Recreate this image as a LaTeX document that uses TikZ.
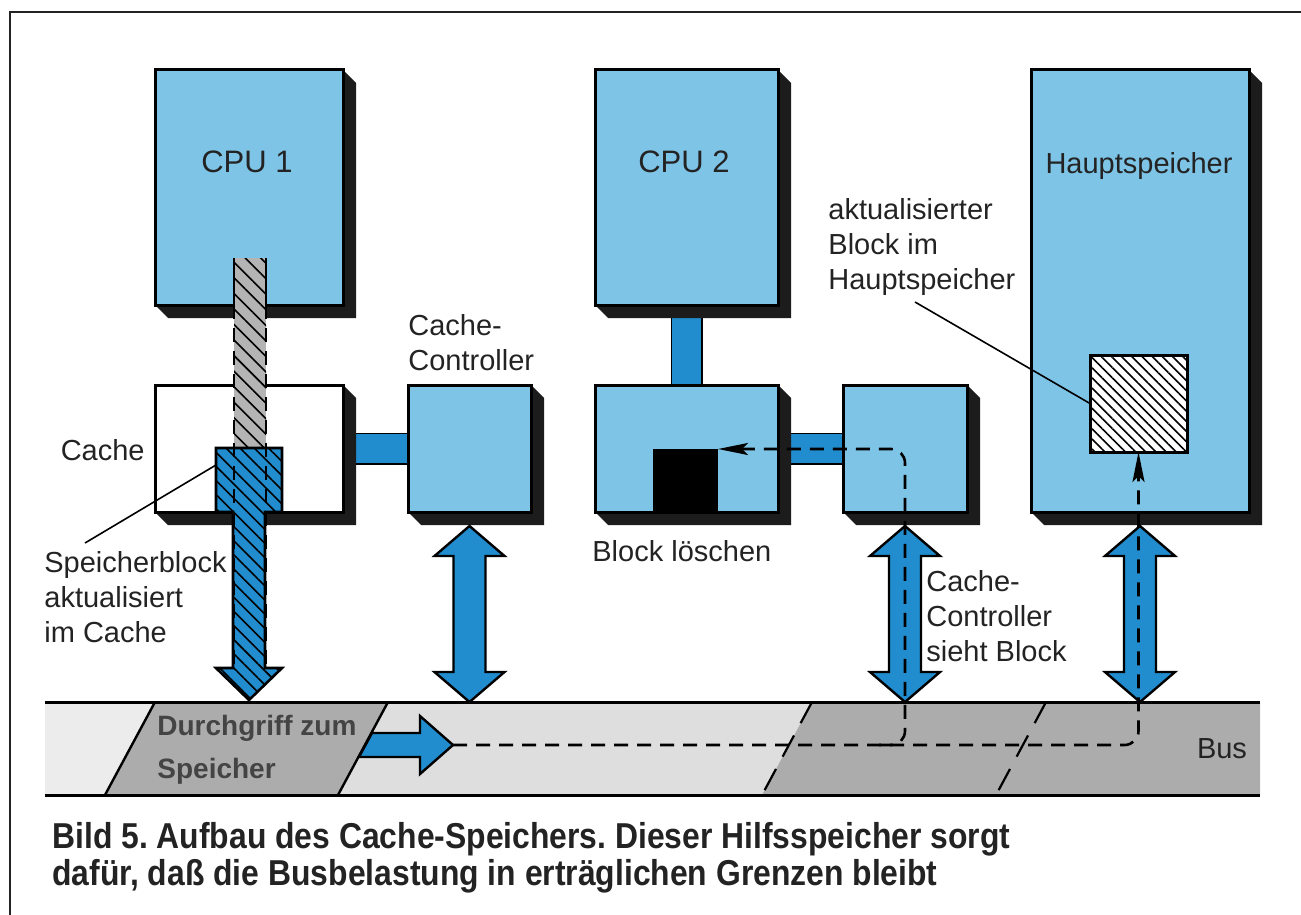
\documentclass[tikz,border=0pt]{standalone}
\usepackage{fontspec}
\setmainfont{Liberation Sans}
\newfontfamily\capfont[FakeStretch=0.885]{Liberation Sans}
\usepackage{tikz}
\usetikzlibrary{arrows.meta, positioning, calc, patterns.meta}
\frenchspacing

\definecolor{BoxBlue}{RGB}{126,196,230}
\definecolor{LinkBlue}{RGB}{34,141,206}
\definecolor{ShadeBlack}{RGB}{28,28,28}
\definecolor{BusPale}{RGB}{236,236,236}
\definecolor{BusLight}{RGB}{222,222,222}
\definecolor{BusDark}{RGB}{172,172,172}
\definecolor{BarGray}{RGB}{180,180,180}
\definecolor{InkGray}{RGB}{35,35,35}
\definecolor{PrintGray}{RGB}{68,68,68}

\pgfdeclarelayer{bars}
\pgfdeclarelayer{shade}
\pgfsetlayers{bars,shade,main}

% dunkler Koerper hinter einem Block
\newcommand\extrude[1]{%
  \begin{pgfonlayer}{shade}
    \fill[ShadeBlack] (#1.north east) -- ++(13,13) -- ($(#1.south east)+(13,13)$)
      -- ($(#1.south west)+(13,13)$) -- (#1.south west) -- cycle;
  \end{pgfonlayer}}

% dicker Doppelpfeil vom Block zum Bus
\newcommand\fatarrow[1]{%
  \coordinate (#1t) at ($(#1.south)+(0,14)$);
  \coordinate (#1b) at (#1.south |- busN);
  \draw[fatarr] (#1t) -- ++(35,30) -- ++(-19,0) -- ($(#1b)+(16,-30)$) -- ++(19,0)
    -- (#1b) -- ++(-35,-30) -- ++(19,0) -- ($(#1t)+(-16,30)$) -- ++(-19,0) -- cycle;}

\tikzset{
  unit/.style={draw=black, line width=1.5pt, fill=BoxBlue, inner sep=0pt, outer sep=0pt},
  lbl/.style={font=\fontsize{14.5}{17.5}\selectfont, text=InkGray, inner sep=0pt, align=left},
  link/.style={draw=black, line width=0.9pt, double=LinkBlue, double distance=14.2pt},
  fatarr/.style={draw=black, line width=1.2pt, fill=LinkBlue, line join=miter},
  flow/.style={line width=1.3pt, dash pattern=on 7pt off 4.5pt},
  hatch/.style={pattern={Lines[angle=-45, distance=#1, line width=0.8pt]}, pattern color=black},
}

\begin{document}
\begin{tikzpicture}[x=0.5pt, y=-0.5pt]
  \useasboundingbox (0,0) rectangle (1301,915);
  \draw[line width=1pt, InkGray] (10,915) -- (10,12) -- (1301,12);

  % Bloecke
  \node[unit, minimum width=94pt, minimum height=117.5pt] (cpuA) at (249,187.5) {};
  \node[unit, fill=white, minimum width=94pt, minimum height=63.5pt] (cacheA) at (249,448.5) {};
  \node[unit, minimum width=61.5pt, minimum height=63.5pt] (ccA) at (469.5,448.5) {};
  \node[unit, minimum width=91.5pt, minimum height=117.5pt] (cpuB) at (686.5,187.5) {};
  \node[unit, minimum width=91.5pt, minimum height=63.5pt] (cacheB) at (686.5,448.5) {};
  \node[unit, minimum width=62pt, minimum height=63.5pt] (ccB) at (905,448.5) {};
  \node[unit, minimum width=109pt, minimum height=221pt] (mem) at (1140,291) {};
  \foreach \b in {cpuA,cacheA,ccA,cpuB,cacheB,ccB,mem} {\extrude{\b}}

  \begin{pgfonlayer}{bars}
    \draw[link] (cacheA.east) -- (ccA.west);
    \draw[link] (cacheB.east) -- (ccB.west);
    \draw[link] (cpuB.south) -- (cacheB.north);
  \end{pgfonlayer}

  \node[fill=black, inner sep=0pt, outer sep=0pt, minimum width=32.5pt, minimum height=32pt] (blkB) at (685.5,481) {};
  \node[draw, line width=1.5pt, inner sep=0pt, outer sep=0pt, minimum size=48.5pt,
        preaction={fill=white}, hatch=3.6pt] (memBlk) at (1138.5,403.5) {};

  % Bus
  \coordinate (busN) at (45,702);
  \fill[BusPale] (45,702) -- (155,702) -- (105,795) -- (45,795) -- cycle;
  \fill[BusDark] (155,702) -- (388,702) -- (338,795) -- (105,795) -- cycle;
  \fill[BusLight] (388,702) -- (812,702) -- (762,795) -- (338,795) -- cycle;
  \fill[BusDark] (812,702) -- (1260,702) -- (1260,795) -- (762,795) -- cycle;
  \draw[line width=1.2pt] (155,702) -- (105,795) (388,702) -- (338,795);
  \draw[line width=1.1pt, dash pattern=on 12pt off 7pt] (812,702) -- (762,795) (1046,702) -- (996,795);
  \draw[line width=1.5pt] (45,702) -- (1260,702) (45,795) -- (1260,795);
  \node[lbl, font=\fontsize{14}{21.5}\selectfont\bfseries, text=PrintGray, anchor=west] (thru) at (157,750) {Durchgriff zum\\Speicher};
  \node[lbl] (bus) at (1222,749) {Bus};
  \coordinate (busTip) at (453,745);
  \draw[fatarr] (372,733) -- (420,733) -- (420,716) -- (busTip) -- (420,774) -- (420,757) -- (359,757) -- cycle;

  % Zugriff CPU 1 ueber den Cache
  \fill[BarGray] (234,258) rectangle (266,448);
  \fill[hatch=5.5pt] (234,258) rectangle (266,448);
  \draw[fatarr, line width=1.3pt, hatch=5pt, preaction={fill=LinkBlue}] (216,448) -- (282,448) -- (282,512) -- (265,512)
    -- (265,668) -- (282,668) -- (249,700) -- (216,668) -- (233,668) -- (233,512) -- (216,512) -- cycle;
  \draw[line width=1.1pt] (234,258) -- (234,305) (266,258) -- (266,305);
  \draw[flow] (234,305) -- (234,668) (266,305) -- (266,668);

  \fatarrow{ccA}
  \fatarrow{ccB}
  \fatarrow{mem}

  % Datenwege
  \draw[flow, rounded corners=7pt, -{Stealth[length=15pt, width=6pt, inset=3pt]}] (busTip) -- (memBlk.south |- busTip) -- (memBlk.south);
  \draw[flow, rounded corners=7pt, -{Stealth[length=15pt, width=6pt, inset=3pt]}] ($(ccB.south |- busTip)+(-26,0)$) -- (ccB.south |- busTip)
    -- (ccB.center |- blkB.north) -- (blkB.north east);

  % Beschriftung
  \node[lbl, font=\fontsize{15.5}{18}\selectfont] (cpuAtxt) at (247,162) {CPU 1};
  \node[lbl, font=\fontsize{15.5}{18}\selectfont] (cpuBtxt) at (684,162) {CPU 2};
  \node[lbl] (memtxt) at (1139,166) {Hauptspeicher};
  \node[lbl, anchor=east] (cacheAtxt) at (145,450) {Cache};
  \node[lbl, anchor=west] (ccAtxt) at (408,343) {Cache-\\Controller};
  \node[lbl, anchor=west] (blkBtxt) at (592,551) {Block löschen};
  \node[lbl, anchor=west] (ccBtxt) at (926,616) {Cache-\\Controller\\sieht Block};
  \node[lbl, anchor=west] (memBlktxt) at (828,247) {aktualisierter\\Block im\\Hauptspeicher};
  \node[lbl, anchor=west] (blkAtxt) at (44,597) {Speicherblock\\aktualisiert\\im Cache};
  \draw[line width=0.8pt] (216,465) -- (85,543);
  \draw[line width=0.8pt] (915,302) -- (memBlk.west);

  \node[anchor=north west, inner sep=0pt, align=left, text=InkGray,
        font=\capfont\fontsize{18}{18.5}\selectfont\bfseries] (caption) at (52,822)
    {Bild 5. Aufbau des Cache-Speichers. Dieser Hilfsspeicher sorgt\\dafür, daß die Busbelastung in erträglichen Grenzen bleibt};
\end{tikzpicture}
\end{document}
